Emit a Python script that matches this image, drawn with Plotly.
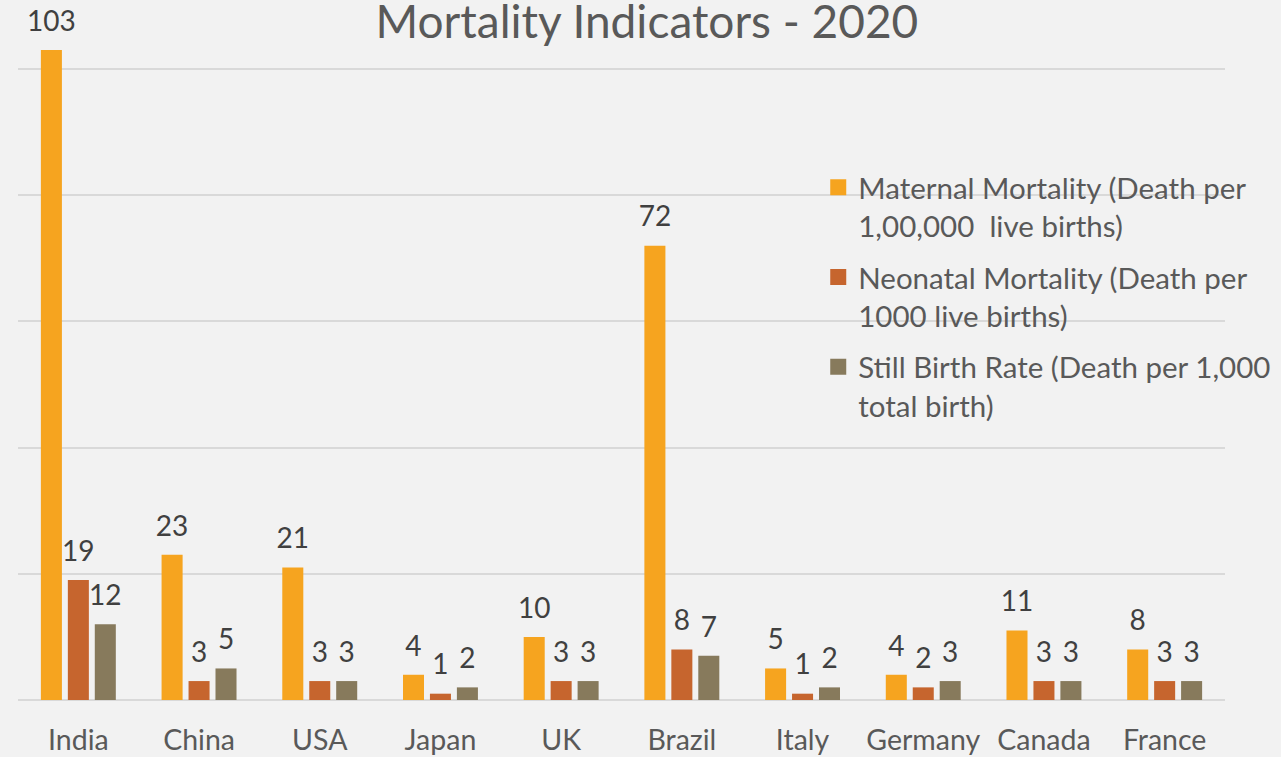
import plotly.graph_objects as go

countries = ["India", "China", "USA", "Japan", "UK", "Brazil", "Italy", "Germany", "Canada", "France"]
maternal = [103, 23, 21, 4, 10, 72, 5, 4, 11, 8]
neonatal = [19, 3, 3, 1, 3, 8, 1, 2, 3, 3]
stillbirth = [12, 5, 3, 2, 3, 7, 2, 3, 3, 3]

series_names = [
    "Maternal Mortality (Death per<br>1,00,000  live births)",
    "Neonatal Mortality (Death per<br>1000 live births)",
    "Still Birth Rate (Death per 1,000<br>total birth)",
]
colors = ["#F6A41F", "#C6652E", "#877A5C"]

FONT = "Lato, 'Open Sans', sans-serif"

fig = go.Figure()
for i, (name, vals, col) in enumerate(zip(series_names, [maternal, neonatal, stillbirth], colors)):
    fig.add_trace(go.Bar(
        x=countries, y=vals, name=name, legendgroup=f"g{i}", showlegend=False,
        offsetgroup=f"g{i}",
        marker=dict(color=col, line=dict(width=0)),
        hoverinfo="skip",
    ))
for i, (name, vals, col) in enumerate(zip(series_names, [maternal, neonatal, stillbirth], colors)):
    # data labels placed above each bar
    fig.add_trace(go.Scatter(
        x=countries, y=vals, mode="markers+text", text=[str(v) for v in vals],
        textposition="top center", offsetgroup=f"g{i}", showlegend=False,
        textfont=dict(size=28, color="#404040", family=FONT),
        marker=dict(size=18, opacity=0, color=col), cliponaxis=False,
    ))
for i, (name, vals, col) in enumerate(zip(series_names, [maternal, neonatal, stillbirth], colors)):
    # legend entry with a larger square swatch
    fig.add_trace(go.Scatter(
        x=[None], y=[None], mode="markers", name=name, legendgroup=f"g{i}",
        marker=dict(symbol="square", size=16, color=col),
    ))

fig.update_layout(
    width=1281, height=757,
    paper_bgcolor="#F2F2F2", plot_bgcolor="#F2F2F2",
    margin=dict(l=18, r=56, t=0, b=57),
    barmode="group", bargap=0.33, bargroupgap=0.22,
    scattermode="group", scattergap=0.33,
    font=dict(family=FONT, color="#595959"),
    title=dict(text="Mortality Indicators - 2020", x=0.505, xanchor="center",
               y=1 - 22 / 757, yanchor="middle", yref="container",
               font=dict(size=46, color="#595959", family=FONT)),
    showlegend=True,
    legend=dict(x=0.663, y=0.769, xanchor="left", yanchor="top",
                bgcolor="rgba(0,0,0,0)", font=dict(size=29.5, color="#595959", family=FONT),
                tracegroupgap=10, valign="top", itemwidth=30),
    xaxis=dict(showgrid=False, showline=False, ticks="", tickfont=dict(size=28.5, color="#595959"),
               ticklabelstandoff=20),
    yaxis=dict(range=[0, 700 / 6.31], dtick=20, showticklabels=False, showgrid=True,
               gridcolor="#D9D9D9", gridwidth=1.5, zeroline=True, zerolinecolor="#D9D9D9",
               zerolinewidth=1.5),
)

fig.write_html("out.html", config={"displayModeBar": False},
               post_script="document.body.style.margin='0';document.body.style.overflow='hidden';")
